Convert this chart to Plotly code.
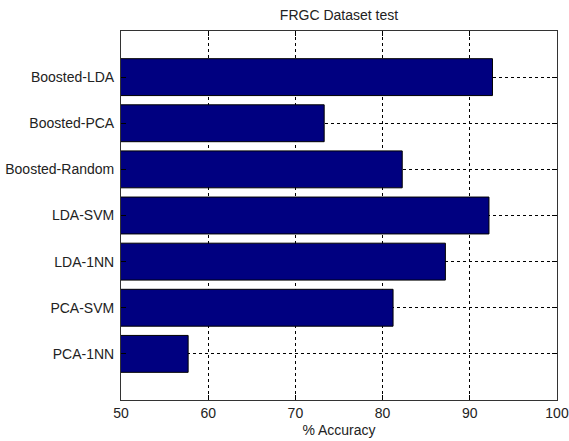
import plotly.graph_objects as go

# Data (top to bottom as in the picture)
methods = ["Boosted-LDA", "Boosted-PCA", "Boosted-Random", "LDA-SVM", "LDA-1NN", "PCA-SVM", "PCA-1NN"]
accuracy = [92.6, 73.3, 82.25, 92.2, 87.2, 81.2, 57.7]
x_ticks = [50, 60, 70, 80, 90, 100]

cats_bottom_up = methods[::-1]
vals_bottom_up = accuracy[::-1]

FONT = "Liberation Sans, Arial, sans-serif"
TXT = "#222222"
L, R, T, B = 120.5, 11.5, 31, 41
W, H = 569, 441

fig = go.Figure(
    go.Bar(
        x=vals_bottom_up,
        y=cats_bottom_up,
        orientation="h",
        marker=dict(color="#000080", line=dict(color="#000000", width=1)),
        width=0.8,
        base=0,
    )
)

fig.update_layout(
    width=W,
    height=H,
    margin=dict(l=L, r=R, t=T, b=B, autoexpand=False),
    paper_bgcolor="white",
    plot_bgcolor="white",
    showlegend=False,
    title=dict(
        text="FRGC Dataset test",
        x=(L + (W - R)) / 2 / W,
        xanchor="center",
        y=1 - 15 / H,
        yanchor="middle",
        font=dict(family=FONT, size=14, color=TXT),
        automargin=False,
    ),
    font=dict(family=FONT, size=14, color=TXT),
)

fig.update_xaxes(
    range=[50, 100],
    tickvals=x_ticks,
    ticktext=[str(v) for v in x_ticks],
    ticks="inside",
    ticklen=5,
    tickcolor="black",
    showline=True,
    linecolor="#333333",
    linewidth=1,
    mirror="ticks",
    showgrid=True,
    gridcolor="black",
    gridwidth=1,
    griddash="3px,3px",
    zeroline=False,
    automargin=False,
    title=dict(text="% Accuracy", standoff=5, font=dict(family=FONT, size=14, color=TXT)),
    tickfont=dict(family=FONT, size=14, color=TXT),
)

fig.update_yaxes(
    type="category",
    categoryorder="array",
    categoryarray=cats_bottom_up,
    range=[-1, 7],
    ticks="inside",
    ticklen=5,
    tickcolor="black",
    showline=True,
    linecolor="#333333",
    linewidth=1,
    mirror="ticks",
    showgrid=True,
    gridcolor="black",
    gridwidth=1,
    griddash="3px,3px",
    zeroline=False,
    automargin=False,
    ticklabelstandoff=3,
    tickfont=dict(family=FONT, size=14, color=TXT),
)

fig.write_html(
    "out.html",
    config={"displayModeBar": False},
    post_script="document.body.style.margin='0';document.body.style.overflow='hidden';",
)
